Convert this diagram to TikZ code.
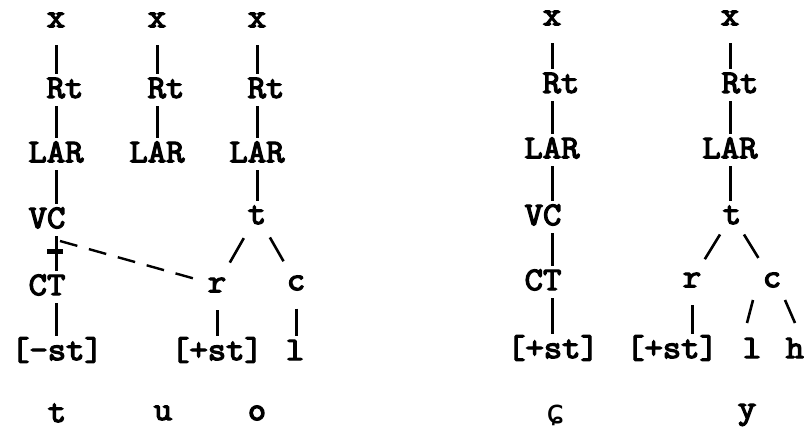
\documentclass[tikz,border=0pt]{standalone}
\usepackage{fontspec}
\newfontfamily\typew{Latin Modern Mono}[FakeBold=4,FakeStretch=1.08]
\newfontfamily\ipafont{DejaVu Sans Mono}
\usetikzlibrary{calc}

\begin{document}
\begin{tikzpicture}[x=1pt,y=-1pt,
    seg/.style={font=\fontsize{33}{33}\selectfont\typew,inner sep=0pt},
    stem/.style={line width=3pt,shorten <=18pt,shorten >=14pt},
    slash/.style={line width=2.6pt},
    assoc/.style={line width=2.4pt,dash pattern=on 18pt off 12pt,shorten >=10pt}]
  \useasboundingbox (0,0) rectangle (804,431);
  % t
  \foreach \p/\n/\t in {(56,20)/x1/x,(65,88)/rt1/Rt,(56,152)/lar1/LAR,(47,218)/vc1/VC,
      (47,285)/ct1/CT,(57,350)/st1/[-st],(57,413)/ph1/t}
    \node[seg] (\n) at \p {\t};
  % u
  \foreach \p/\n/\t in {(157,20)/x2/x,(166,88)/rt2/Rt,(157,152)/lar2/LAR,(163,413)/ph2/u}
    \node[seg] (\n) at \p {\t};
  % o
  \foreach \p/\n/\t in {(257,20)/x3/x,(266,88)/rt3/Rt,(257,152)/lar3/LAR,(257,215)/t3/t,
      (217,285)/r3/r,(296,283)/c3/c,(217,350)/st3/[+st],(295,350)/l3/l,(257,413)/ph3/o}
    \node[seg] (\n) at \p {\t};
  % c-curl
  \foreach \p/\n/\t in {(552,18)/x4/x,(561,83)/rt4/Rt,(552,148)/lar4/LAR,(543,215)/vc4/VC,
      (543,280)/ct4/CT,(553,348)/st4/[+st]}
    \node[seg] (\n) at \p {\t};
  \node[seg] (ph4) at (555,415) {\ipafont ɕ};
  % y
  \foreach \p/\n/\t in {(730,18)/x5/x,(740,83)/rt5/Rt,(730,148)/lar5/LAR,(732,215)/t5/t,
      (692,280)/r5/r,(772,280)/c5/c,(672,348)/st5/[+st],(752,348)/l5/l,(795,348)/h5/h,
      (747,415)/ph5/y}
    \node[seg] (\n) at \p {\t};

  \draw[stem] (x1) -- (x1 |- rt1);
  \draw[stem] (x1 |- rt1) -- (x1 |- lar1);
  \draw[stem] (x1 |- lar1) -- (x1 |- vc1);
  \draw[stem] (x1 |- vc1) -- (x1 |- ct1);
  \draw[stem] (x1 |- ct1) -- (x1 |- st1);
  \draw[stem] (x2) -- (x2 |- rt2);
  \draw[stem] (x2 |- rt2) -- (x2 |- lar2);
  \draw[stem] (x3) -- (x3 |- rt3);
  \draw[stem] (x3 |- rt3) -- (x3 |- lar3);
  \draw[stem] (x3 |- lar3) -- (x3 |- t3);
  \draw[stem] (r3) -- (r3 |- st3);
  \draw[stem] (c3) -- (c3 |- l3);
  \draw[slash] ($(t3)!0.33!(r3)$) -- ($(t3)!0.68!(r3)$);
  \draw[slash] ($(t3)!0.33!(c3)$) -- ($(t3)!0.68!(c3)$);
  \coordinate (cut1) at (60,241);
  \draw[assoc] (cut1) -- (r3);
  \draw[line width=5pt] ($(cut1)+(-13,10)$) -- ($(cut1)+(3,10)$);

  \draw[stem] (x4) -- (x4 |- rt4);
  \draw[stem] (x4 |- rt4) -- (x4 |- lar4);
  \draw[stem] (x4 |- lar4) -- (x4 |- vc4);
  \draw[stem] (x4 |- vc4) -- (x4 |- ct4);
  \draw[stem] (x4 |- ct4) -- (x4 |- st4);
  \draw[stem] (x5) -- (x5 |- rt5);
  \draw[stem] (x5 |- rt5) -- (x5 |- lar5);
  \draw[stem] (x5 |- lar5) -- (x5 |- t5);
  \draw[stem] (r5) -- (r5 |- st5);
  \draw[slash] ($(t5)!0.3!(r5)$) -- ($(t5)!0.68!(r5)$);
  \draw[slash] ($(t5)!0.3!(c5)$) -- ($(t5)!0.66!(c5)$);
  \draw[slash] ($(c5)+(-19,20)$) -- ($(l5)+(-5,-25)$);
  \draw[slash] ($(c5)+(13,20)$) -- ($(h5)+(0,-25)$);
\end{tikzpicture}
\end{document}
